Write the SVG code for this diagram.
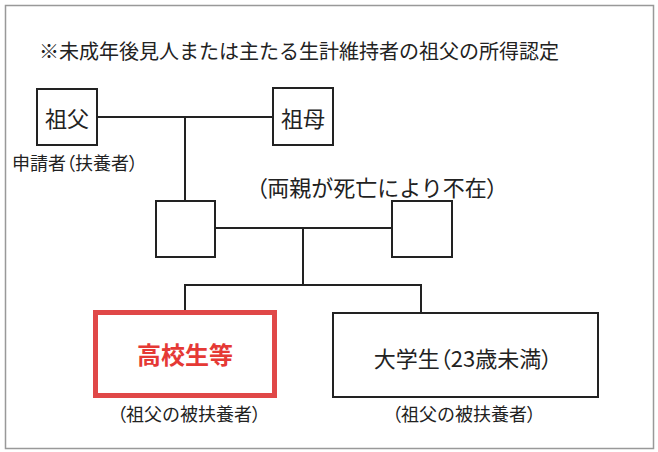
<svg xmlns="http://www.w3.org/2000/svg" width="658" height="452" viewBox="0 0 658 452">
<style>
text{font-family:"Noto Sans CJK JP","Noto Sans CJK SC",sans-serif;fill:#222;dominant-baseline:central}
.box{fill:#fff;stroke:#222;stroke-width:2}
.ln{stroke:#222;stroke-width:2;fill:none}
.p{font-feature-settings:"palt"}
.m{text-anchor:middle}
</style>
<rect x="0" y="0" width="658" height="452" fill="#fff"/>
<rect x="5.5" y="5.5" width="648" height="443" fill="none" stroke="#999" stroke-width="1.5"/>
<text x="39" y="50" font-size="20">※未成年後見人または主たる生計維持者の祖父の所得認定</text>
<g id="connectors">
<line class="ln" x1="97" y1="117" x2="273" y2="117"/>
<line class="ln" x1="185" y1="117" x2="185" y2="201"/>
<line class="ln" x1="215" y1="228" x2="392" y2="228"/>
<line class="ln" x1="303" y1="228" x2="303" y2="285"/>
<line class="ln" x1="184" y1="285" x2="422" y2="285"/>
<line class="ln" x1="185" y1="284" x2="185" y2="311"/>
<line class="ln" x1="421" y1="284" x2="421" y2="313"/>
</g>
<g id="grandfather">
<rect class="box" x="37" y="89" width="60" height="56"/>
<text class="m" x="67" y="117" font-size="22">祖父</text>
<text x="12" y="162" font-size="18">申請者<tspan class="p">（</tspan>扶養者<tspan class="p">）</tspan></text>
</g>
<g id="grandmother">
<rect class="box" x="273" y="88" width="60" height="57"/>
<text class="m" x="303" y="117" font-size="22">祖母</text>
</g>
<text class="m" x="377" y="186" font-size="22"><tspan class="p">（</tspan>両親が死亡により不在<tspan class="p">）</tspan></text>
<g id="parent1">
<rect class="box" x="156" y="201" width="59" height="56"/>
</g>
<g id="parent2">
<rect class="box" x="392" y="201" width="60" height="56"/>
</g>
<g id="highschool">
<rect x="95.5" y="312.5" width="179" height="83" fill="#fff" stroke="#e04848" stroke-width="5"/>
<text class="m" x="185" y="353" font-size="24" font-weight="bold" style="fill:#e53935">高校生等</text>
<text class="m" x="189" y="413" font-size="18"><tspan class="p">（</tspan>祖父の被扶養者<tspan class="p">）</tspan></text>
</g>
<g id="university">
<rect class="box" x="333" y="313" width="265" height="84"/>
<text class="m" x="463" y="357" font-size="22">大学生<tspan class="p">（</tspan>23歳未満<tspan class="p">）</tspan></text>
<text class="m" x="464" y="413" font-size="18"><tspan class="p">（</tspan>祖父の被扶養者<tspan class="p">）</tspan></text>
</g>
</svg>
